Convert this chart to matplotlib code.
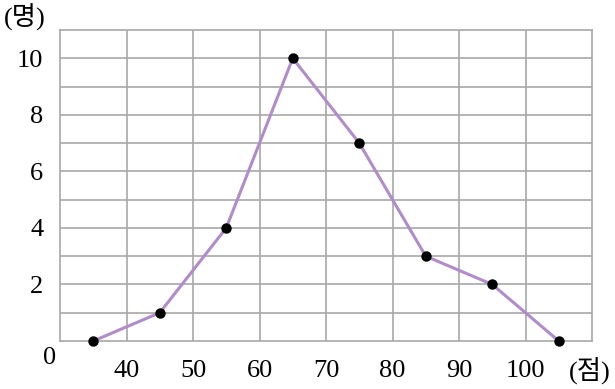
import matplotlib
matplotlib.use("Agg")
import matplotlib.pyplot as plt

scores = [35, 45, 55, 65, 75, 85, 95, 105]
counts = [0, 1, 4, 10, 7, 3, 2, 0]
xticks = [40, 50, 60, 70, 80, 90, 100]
yticks = [2, 4, 6, 8, 10]

fam = ['Liberation Serif', 'Noto Sans CJK KR']
plt.rcParams['font.family'] = fam

fig = plt.figure(figsize=(6.15, 3.89), dpi=100)
ax = fig.add_axes([60/615, 1-341/389, (592-60)/615, (341-30)/389])
ax.set_xlim(30, 110)
ax.set_ylim(0, 11)

grid_c = '#a8a8a8'
for v in range(40, 110, 10):
    ax.axvline(v, color=grid_c, lw=1.2, zorder=1)
for v in range(1, 11):
    ax.axhline(v, color=grid_c, lw=1.2, zorder=1)
for s in ax.spines.values():
    s.set_color(grid_c)
    s.set_linewidth(1.2)

ax.plot(scores, counts, color='#b08ccb', lw=2.2, zorder=3, clip_on=False)
ax.plot(scores, counts, 'o', color='black', ms=6.5, zorder=4, clip_on=False)

ax.set_xticks(xticks)
ax.set_xticklabels([str(t) for t in xticks])
ax.set_yticks(yticks)
ax.set_yticklabels([str(t) for t in yticks])
ax.tick_params(length=0, labelsize=19, colors='black')
ax.tick_params(axis='x', pad=14)
ax.tick_params(axis='y', pad=12)

fig.text(50/615, 1-358/389, '0', fontsize=19, ha='center', va='center')
fig.text(25/615, 1-17/389, '(명)', fontsize=19, ha='center', va='center')
fig.text(590/615, 1-371/389, '(점)', fontsize=19, ha='center', va='center')

fig.savefig('out.png', dpi=100)
